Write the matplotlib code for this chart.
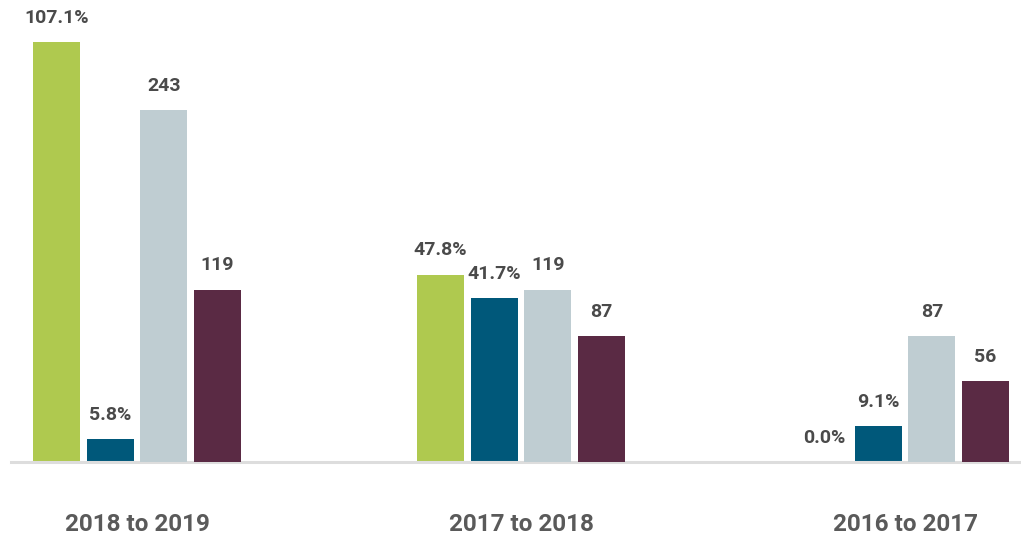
import numpy as np
import matplotlib
matplotlib.use("Agg")
import matplotlib.pyplot as plt

# data
periods = ["2018 to 2019", "2017 to 2018", "2016 to 2017"]
pct_a = [107.1, 47.8, 0.0]      # green, percent
pct_b = [5.8, 41.7, 9.1]        # dark blue, percent
count_a = [243, 119, 87]        # light grey-blue, count
count_b = [119, 87, 56]         # maroon, count

colors = ["#afc94f", "#00587a", "#bfcdd2", "#5a2a44"]
text_color = "#4a4a4a"

plt.rcParams["font.family"] = ["Roboto", "DejaVu Sans"]

fig = plt.figure(figsize=(10.21, 5.4), dpi=100)
ax = fig.add_axes([11 / 1021, 78 / 540, 1010 / 1021, 420 / 540])
ax2 = ax.twinx()

x = np.arange(len(periods))
w = 0.1224
step = 0.1398
offsets = np.array([-1.5, -0.5, 0.5, 1.5]) * step

series = [
    (ax, pct_a, colors[0], "{:.1f}%"),
    (ax, pct_b, colors[1], "{:.1f}%"),
    (ax2, count_a, colors[2], "{:d}"),
    (ax2, count_b, colors[3], "{:d}"),
]

for i, (a, vals, c, fmt) in enumerate(series):
    bars = a.bar(x + offsets[i], vals, width=w, color=c, zorder=2)
    for b, v in zip(bars, vals):
        a.annotate(fmt.format(v), (b.get_x() + b.get_width() / 2, b.get_height()),
                   xytext=(0, 11), textcoords="offset points", ha="center", va="bottom",
                   fontsize=14, fontweight="bold", color=text_color, annotation_clip=False)

ax.set_ylim(0, 107.1)
ax2.set_ylim(0, 290)
ax.set_xlim(-0.328, 2.302)

for a in (ax, ax2):
    for s in ["top", "right", "left"]:
        a.spines[s].set_visible(False)
    a.set_yticks([])
ax2.spines["bottom"].set_visible(False)
ax.spines["bottom"].set_color("#dddddd")
ax.spines["bottom"].set_linewidth(2.2)

ax.set_xticks(x)
ax.set_xticklabels(periods, fontsize=17.5, fontweight="bold", color="#5a5a5a")
ax.tick_params(axis="x", length=0, pad=37)

fig.savefig("out.png", dpi=100)
